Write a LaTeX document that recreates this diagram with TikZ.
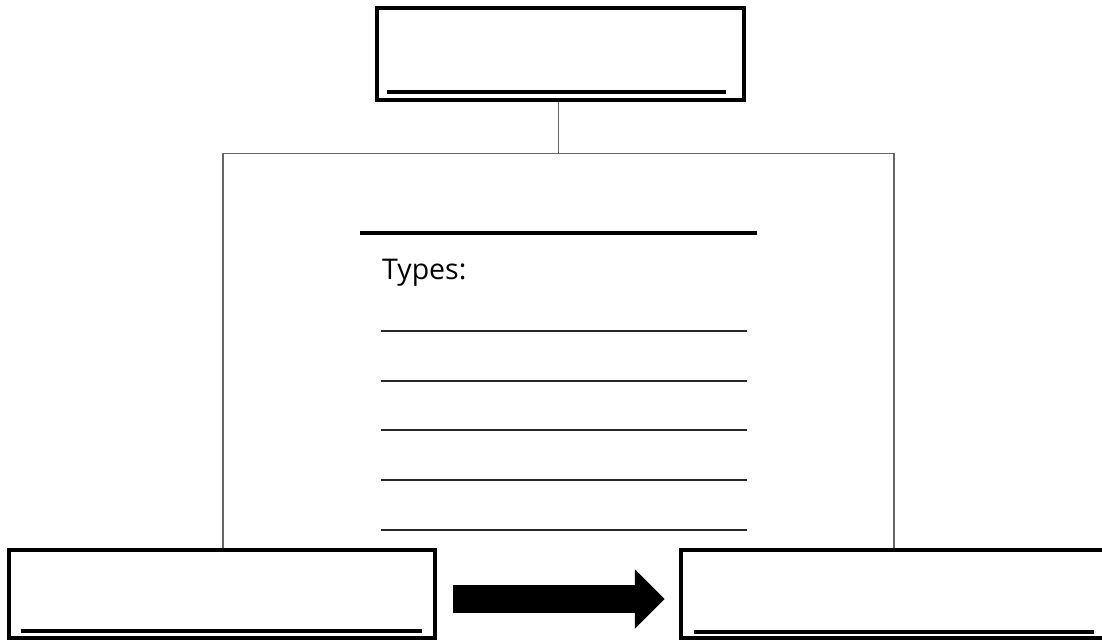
\documentclass[tikz,border=0pt]{standalone}
\usepackage{fontspec}
\setmainfont{Open Sans}
\usepackage{tikz}
\usetikzlibrary{arrows.meta,positioning}

\begin{document}
\begin{tikzpicture}[
  x=1pt, y=-1pt,
  every node/.style={align=left, font=\fontsize{28.5}{34}\selectfont},
  box/.style={rectangle, draw=black, line width=4.5pt, inner sep=0pt, minimum width=426pt, minimum height=88pt},
  link/.style={draw=black!60, line width=1.3pt},
  blank/.style={line width=4pt},
  rule/.style={draw=black!85, line width=2pt},
  bigarrow/.style={line width=28pt, -{Triangle[length=30pt, width=58pt]}}
]
\useasboundingbox (0,0) rectangle (1102,641);
\clip (0,0) rectangle (1102,641);

% --- BOXES ---
\node[box, minimum width=367pt, minimum height=92pt] (top) at (560.5,54) {};
\node[box] (left) at (222,594) {};
\node[box] (right) at (894,594) {};

% --- FILL-IN LINES IN BOXES ---
\draw[blank] ([shift={(12pt,10pt)}]top.south west) -- ([shift={(-20pt,10pt)}]top.south east);
\draw[blank] ([shift={(14pt,9pt)}]left.south west) -- ([shift={(-15pt,9pt)}]left.south east);
\draw[blank] ([shift={(15pt,8pt)}]right.south west) -- ([shift={(-15pt,8pt)}]right.south east);

% --- TREE LINKS ---
\draw[link] ([xshift=-2pt]top.south) -- ++(0,51) coordinate (split);
\draw[link] (split) -| ([xshift=1pt]left.north);
\draw[link] (split) -| (right.north);

% --- MIDDLE BLOCK ---
\draw[blank] (360,233) -- (757,233);
\node[anchor=base west, inner sep=0pt] (types) at (382,279) {Types:};
\foreach \y in {331,381,430,480,530}
  \draw[rule] (381,\y) -- (747,\y);

% --- ARROW ---
\draw[bigarrow] ([shift={(16pt,-5pt)}]left.east) -- ([shift={(-14pt,-5pt)}]right.west);

\end{tikzpicture}
\end{document}
